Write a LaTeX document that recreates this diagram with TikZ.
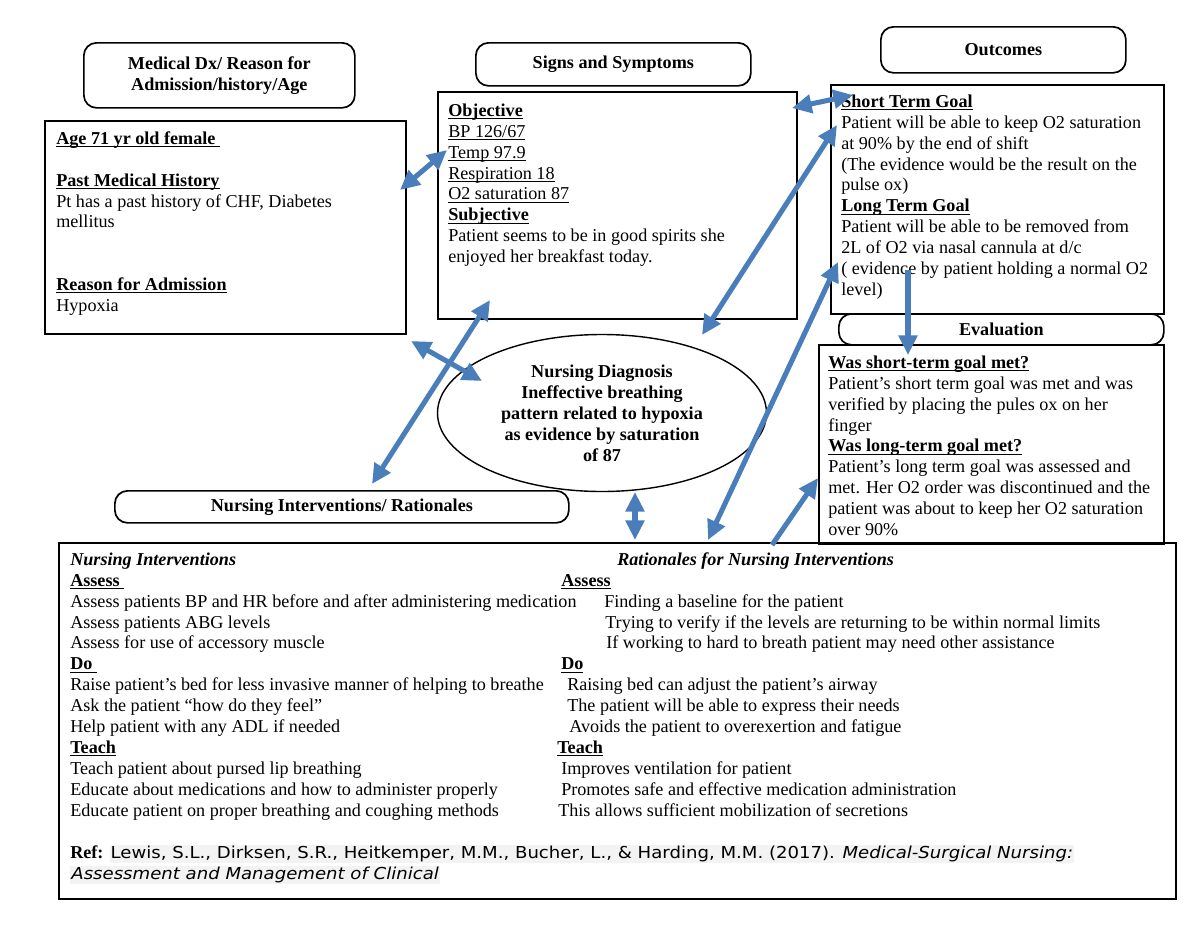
\documentclass[tikz,border=0pt]{standalone}
\usepackage{fontspec}
\setmainfont{Liberation Serif}
\newfontfamily\refsans[FakeStretch=1.1]{DejaVu Sans}
\usetikzlibrary{arrows.meta,shapes.geometric}
\newlength\px
\setlength\px{0.025cm}
\definecolor{linkblue}{HTML}{4A7EBB}
\definecolor{refgrey}{HTML}{F3F3F3}
\newcommand{\bodyfont}{\fontsize{12.9}{14.87}\selectfont}
\newcommand{\reffont}{\refsans\fontsize{11.7}{14.87}\selectfont}
\newcommand{\ulin}[1]{\setbox0\hbox{#1}\rlap{\rule[-1.8pt]{\wd0}{0.6pt}}\box0}
\newcommand{\refmark}[1]{{\setlength\fboxsep{0.8pt}\colorbox{refgrey}{\reffont #1}}}
\tikzset{
  box/.style={draw, line width=1.1pt, anchor=north west, inner sep=0pt},
  headbox/.style={draw, line width=1.2pt, rounded corners=9pt, anchor=north west,
    inner sep=0pt, align=center, font=\bodyfont\bfseries},
  txt/.style={anchor=north west, inner sep=0pt, align=left, font=\bodyfont},
  link/.style={draw=linkblue, line width=3.6pt,
    {Triangle[length=14pt,width=13pt]}-{Triangle[length=14pt,width=13pt]}},
  onelink/.style={draw=linkblue, line width=3.6pt, -{Triangle[length=14pt,width=13pt]}},
}
\begin{document}
\begin{tikzpicture}[x=0.025cm,y=-0.025cm]
\useasboundingbox (0,0) rectangle (1200,927);

% Medical Dx
\node[headbox, minimum width=271\px, minimum height=65\px] (dxhead) at (83,42) {Medical Dx/ Reason for\\Admission/history/Age};
\node[box, minimum width=361\px, minimum height=213\px] (agebox) at (44,120) {};
\node[txt] (agetxt) at (56,129.4) {\strut\ulin{\bfseries Age 71 yr old female }\\ \mbox{}\\
  \ulin{\bfseries Past Medical History}\\ Pt has a past history of CHF, Diabetes\\ mellitus\\ \mbox{}\\ \mbox{}\\
  \ulin{\bfseries Reason for Admission}\\ Hypoxia};

% Signs and Symptoms
\node[headbox, minimum width=275\px, minimum height=43\px] (sshead) at (475,42) {Signs and Symptoms};
\node[box, minimum width=359\px, minimum height=227\px] (objbox) at (437,91) {};
\node[txt] (objtxt) at (448,101.4) {\strut\ulin{\bfseries Objective}\\ \ulin{BP 126/67}\\ \ulin{Temp 97.9}\\
  \ulin{Respiration 18}\\ \ulin{O2 saturation 87}\\ \ulin{\bfseries Subjective}\\
  Patient seems to be in good spirits she\\ enjoyed her breakfast today.};

% Outcomes
\node[headbox, minimum width=245\px, minimum height=46\px] (outhead) at (880,26) {Outcomes};
\node[box, minimum width=333\px, minimum height=229\px] (outbox) at (830,84) {};
\node[txt] (outtxt) at (841,92.4) {\strut\ulin{\bfseries Short Term Goal}\\ Patient will be able to keep O2 saturation\\
  at 90\% by the end of shift\\ (The evidence would be the result on the\\ pulse ox)\\
  \ulin{\bfseries Long Term Goal}\\ Patient will be able to be removed from\\ 2L of O2 via nasal cannula at d/c\\
  ( evidence by patient holding a normal O2\\ level)};

% Evaluation
\node[headbox, minimum width=325\px, minimum height=31\px] (evhead) at (838,313) {Evaluation};
\node[box, minimum width=345\px, minimum height=199\px] (evbox) at (818,344) {};
\node[txt] (evtxt) at (828,353.4) {\strut\ulin{\bfseries Was short-term goal met?}\\
  Patient’s short term goal was met and was\\ verified by placing the pules ox on her\\ finger\\
  \ulin{\bfseries Was long-term goal met?}\\ Patient’s long term goal was assessed and\\
  met. Her O2 order was discontinued and the\\ patient was about to keep her O2 saturation\\ over 90\%};

% Nursing Diagnosis
\node[draw, ellipse, line width=1pt, minimum width=329\px, minimum height=157\px, inner sep=0pt,
  align=center, font=\bodyfont\bfseries] (diag) at (602,413) {Nursing Diagnosis\\Ineffective breathing\\
  pattern related to hypoxia\\as evidence by saturation\\of 87};

% Interventions
\node[headbox, minimum width=454\px, minimum height=32\px] (nihead) at (114,490) {Nursing Interventions/ Rationales};
\node[box, minimum width=1117\px, minimum height=356\px] (bigbox) at (58,542) {};
\node[txt] (nitxt) at (70,550.4) {\strut{\bfseries\itshape Nursing Interventions}\\ \ulin{\bfseries Assess }\\
  Assess patients BP and HR before and after administering medication\\ Assess patients ABG levels\\
  Assess for use of accessory muscle\\ \ulin{\bfseries Do }\\
  Raise patient’s bed for less invasive manner of helping to breathe\\ Ask the patient “how do they feel”\\
  Help patient with any ADL if needed\\ \ulin{\bfseries Teach}\\ Teach patient about pursed lip breathing\\
  Educate about medications and how to administer properly\\ Educate patient on proper breathing and coughing methods};
\node[txt] (ratxt) at (557,550.4) {\strut\hspace*{60\px}{\bfseries\itshape Rationales for Nursing Interventions}\\
  \hspace*{4\px}\ulin{\bfseries Assess}\\
  \hspace*{47\px}Finding a baseline for the patient\\
  \hspace*{48\px}Trying to verify if the levels are returning to be within normal limits\\
  \hspace*{49\px}If working to hard to breath patient may need other assistance\\
  \hspace*{4\px}\ulin{\bfseries Do}\\
  \hspace*{10\px}Raising bed can adjust the patient’s airway\\
  \hspace*{10\px}The patient will be able to express their needs\\
  \hspace*{12\px}Avoids the patient to overexertion and fatigue\\
  \ulin{\bfseries Teach}\\
  \hspace*{4\px}Improves ventilation for patient\\
  \hspace*{4\px}Promotes safe and effective medication administration\\
  \hspace*{1\px}This allows sufficient mobilization of secretions};
\node[txt] (reftxt) at (70,843.4) {\strut{\bfseries Ref:} \refmark{Lewis, S.L., Dirksen, S.R., Heitkemper, M.M., Bucher, L., \& Harding, M.M. (2017). \textit{Medical-Surgical Nursing:}}\\
  \refmark{\itshape Assessment and Management of Clinical}};

% arrow ends
\coordinate (ageR) at (400,190);
\coordinate (objL) at (447,150);
\coordinate (objR) at (792,108);
\coordinate (stgL) at (853,95);
\coordinate (objB) at (490,300);
\coordinate (niT) at (372,484);
\coordinate (ageB) at (411,341);
\coordinate (diagL) at (482,381);
\coordinate (stgB) at (837,125);
\coordinate (diagT) at (702,335);
\coordinate (ltgL) at (838,262);
\coordinate (bigT) at (708,540);
\coordinate (bigR) at (772,545);
\coordinate (evL) at (818,478);
\coordinate (diagB) at (635,492);
\coordinate (bigM) at (635,540);
\coordinate (outB) at (908,270);
\coordinate (evT) at (908,355);

% connectors
\draw[link] (ageR) -- (objL);
\draw[link] (objR) -- (stgL);
\draw[link] (objB) -- (niT);
\draw[link] (ageB) -- (diagL);
\draw[link] (stgB) -- (diagT);
\draw[link] (ltgL) -- (bigT);
\draw[onelink] (bigR) -- (evL);
\draw[link] (diagB) -- (bigM);
\draw[onelink] (outB) -- (evT);
\end{tikzpicture}
\end{document}
